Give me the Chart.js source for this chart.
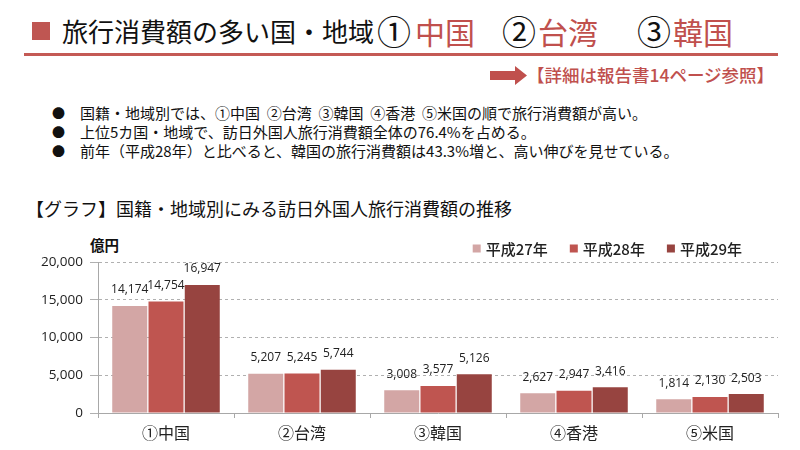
<!DOCTYPE html>
<html><head><meta charset="utf-8">
<script src="https://cdn.jsdelivr.net/npm/chart.js@4"></script>
<style>
html,body{margin:0;padding:0;background:#fff;}
body{width:800px;height:450px;position:relative;overflow:hidden;font-family:"Noto Sans CJK JP",sans-serif;color:#111;}
.a{position:absolute;white-space:nowrap;line-height:1;}
.r{color:#c0504d;}
</style></head><body>
<div class="a" style="left:32px;top:22px;width:18px;height:18px;background:#bf5652"></div>
<div class="a" style="left:62px;top:18px;font-size:26px;">旅行消費額の多い国・地域</div>
<div class="a" style="left:377px;top:14px;font-size:34px;">①</div>
<div class="a r" style="left:415px;top:16px;font-size:30px;">中国</div>
<div class="a" style="left:502px;top:14px;font-size:34px;">②</div>
<div class="a r" style="left:538px;top:16px;font-size:30px;">台湾</div>
<div class="a" style="left:637px;top:14px;font-size:34px;">③</div>
<div class="a r" style="left:673px;top:16px;font-size:30px;">韓国</div>
<div class="a" style="left:24px;top:53px;width:754px;height:3px;background:#c45a55"></div>
<svg class="a" style="left:490px;top:66px" width="38" height="19"><polygon points="0,5 25,5 25,0 37,9.5 25,19 25,14 0,14" fill="#c0504d"/></svg>
<div class="a r" style="left:527px;top:66px;font-size:17.5px;font-weight:500;">【詳細は報告書14ページ参照】</div>

<div class="a" style="left:52px;top:106px;font-size:13px;">●</div>
<div class="a" style="left:80px;top:105px;font-size:15px;">国籍・地域別では、①中国&nbsp;&nbsp;②台湾&nbsp;&nbsp;③韓国&nbsp;&nbsp;④香港&nbsp;&nbsp;⑤米国の順で旅行消費額が高い。</div>
<div class="a" style="left:52px;top:125px;font-size:13px;">●</div>
<div class="a" style="left:80px;top:124px;font-size:15px;">上位5カ国・地域で、訪日外国人旅行消費額全体の76.4%を占める。</div>
<div class="a" style="left:52px;top:144px;font-size:13px;">●</div>
<div class="a" style="left:80px;top:143px;font-size:15px;">前年（平成28年）と比べると、韓国の旅行消費額は43.3%増と、高い伸びを見せている。</div>

<div class="a" style="left:26px;top:199px;font-size:18px;">【グラフ】国籍・地域別にみる訪日外国人旅行消費額の推移</div>
<div class="a" style="left:90px;top:238px;font-size:14.5px;font-weight:bold;">億円</div>

<canvas id="c" width="800" height="230" style="position:absolute;left:0;top:220px"></canvas>
<script>
const categories = ['①中国','②台湾','③韓国','④香港','⑤米国'];
const seriesLabels = ['平成27年','平成28年','平成29年'];
const h27 = [14174, 5207, 3008, 2627, 1814];
const h28 = [14754, 5245, 3577, 2947, 2130];
const h29 = [16947, 5744, 5126, 3416, 2503];
const yTicks = [0, 5000, 10000, 15000, 20000];
const colors = ['#d3a6a5', '#bf5550', '#974440'];

const fmt = v => Number(v).toLocaleString('en-US');

const valueLabels = {
  id: 'valueLabels',
  afterDatasetsDraw(chart) {
    const ctx = chart.ctx;
    ctx.save();
    ctx.font = '12px "Open Sans"';
    ctx.fillStyle = '#222';
    ctx.textAlign = 'center';
    ctx.textBaseline = 'middle';
    chart.data.datasets.forEach((ds, i) => {
      chart.getDatasetMeta(i).data.forEach((bar, j) => {
        ctx.fillText(fmt(ds.data[j]), bar.x, bar.y - 16);
      });
    });
    ctx.restore();
  }
};

const customLegend = {
  id: 'customLegend',
  afterDraw(chart) {
    const ctx = chart.ctx;
    const area = chart.chartArea;
    ctx.save();
    ctx.font = '500 15px "Noto Sans CJK JP"';
    ctx.textBaseline = 'middle';
    ctx.textAlign = 'left';
    const box = 8, gapText = 5, gapItem = 22;
    const ds = chart.data.datasets;
    const widths = ds.map(d => box + gapText + ctx.measureText(d.label).width);
    const total = widths.reduce((a, b) => a + b, 0) + gapItem * (ds.length - 1);
    let x = area.right - 36 - total;
    const y = area.top - 13.5;
    ds.forEach((d, i) => {
      ctx.fillStyle = d.backgroundColor;
      ctx.fillRect(x, y - box / 2, box, box);
      ctx.fillStyle = '#222';
      ctx.fillText(d.label, x + box + gapText, y + 1);
      x += widths[i] + gapItem;
    });
    ctx.restore();
  }
};

new Chart(document.getElementById('c'), {
  type: 'bar',
  data: {
    labels: categories,
    datasets: [
      { label: seriesLabels[0], data: h27, backgroundColor: colors[0] },
      { label: seriesLabels[1], data: h28, backgroundColor: colors[1] },
      { label: seriesLabels[2], data: h29, backgroundColor: colors[2] }
    ]
  },
  options: {
    responsive: false,
    animation: false,
    devicePixelRatio: 1,
    layout: { padding: { left: 0, right: 22, top: 42, bottom: 0 } },
    datasets: { bar: { categoryPercentage: 0.8, barPercentage: 0.965 } },
    plugins: { legend: { display: false }, tooltip: { enabled: false } },
    scales: {
      x: {
        grid: { display: true, drawOnChartArea: false, drawTicks: true, tickLength: 5, color: '#a8a8a8', offset: true },
        border: { display: true, color: '#a8a8a8', width: 1 },
        ticks: { font: { family: '"Noto Sans CJK JP"', size: 16 }, color: '#222', padding: 5 },
        afterFit(s) { s.height = 37; }
      },
      y: {
        min: 0, max: 20000,
        afterBuildTicks(s) { s.ticks = yTicks.map(v => ({ value: v })); },
        grid: { color: '#b0b0b0', tickLength: 8, lineWidth: 1 },
        border: { display: true, color: '#a8a8a8', width: 1, dash: [3, 3] },
        ticks: { font: { family: '"Open Sans"', size: 13.5 }, color: '#222', padding: 7, callback: v => fmt(v) },
        afterFit(s) { s.width = 98; }
      }
    }
  },
  plugins: [valueLabels, customLegend]
});
</script>
</body></html>
